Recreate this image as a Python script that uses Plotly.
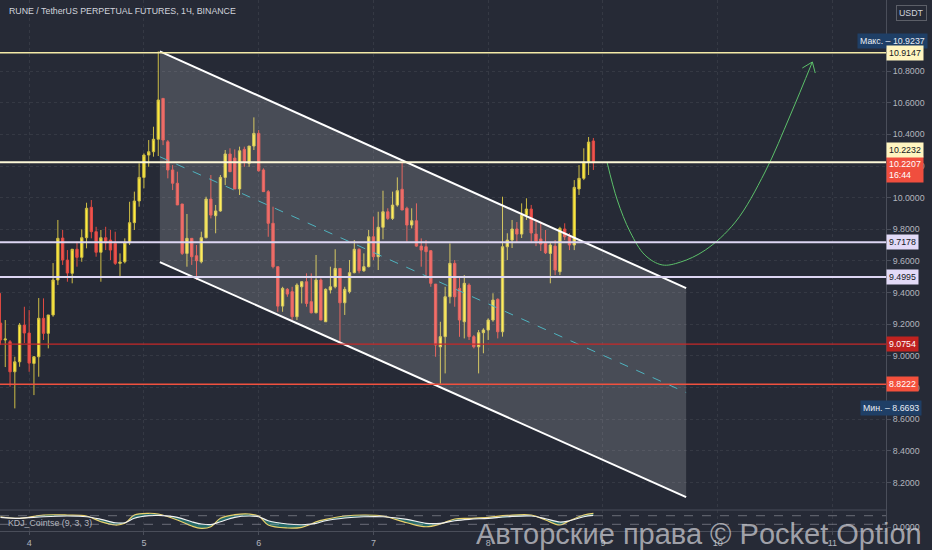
import pandas as pd
import plotly.graph_objects as go

# --- colours ---
BG = "#262a36"
TXT = "#b2b5be"
GRID = "rgba(255,255,255,0.07)"
FONT = "Liberation Sans, Arial, sans-serif"

# --- hourly candles (RUNE/USDT) ---
opens = [9.208, 9.101, 9.090, 8.900, 8.963, 9.195, 9.145, 8.953, 8.995, 9.238,
         9.143, 9.259, 9.480, 9.745, 9.606, 9.522, 9.674, 9.623, 9.747, 9.939,
         9.785, 9.655, 9.747, 9.732, 9.711, 9.585, 9.595, 9.715, 9.842, 9.979,
         10.128, 10.269, 10.290, 10.369, 10.627, 10.353, 10.175, 10.091, 9.960, 9.648,
         9.743, 9.633, 9.595, 9.747, 9.991, 9.886, 9.916, 10.128, 10.276, 10.250,
         10.055, 10.305, 10.217, 10.326, 10.406, 10.175, 10.038, 9.838, 9.564, 9.315,
         9.421, 9.406, 9.248, 9.437, 9.469, 9.343, 9.273, 9.480, 9.216, 9.417,
         9.437, 9.553, 9.336, 9.406, 9.526, 9.674, 9.538, 9.564, 9.753, 9.627,
         9.813, 9.911, 9.869, 9.953, 10.053, 9.933, 9.827, 9.854, 9.694, 9.690,
         9.665, 9.454, 9.058, 9.122, 9.374, 9.585, 9.427, 9.216, 9.448, 9.122,
         9.058, 9.147, 9.164, 9.227, 9.358, 9.153, 9.690, 9.732, 9.802, 9.770,
         9.890, 9.928, 9.770, 9.739, 9.713, 9.648, 9.694, 9.532, 9.802, 9.753,
         9.701, 10.055, 10.122, 10.225, 10.358]
highs = [9.397, 9.227, 9.101, 8.995, 9.208, 9.311, 9.290, 8.999, 9.366, 9.364,
         9.259, 9.587, 9.859, 9.796, 9.669, 9.676, 9.722, 9.800, 9.968, 9.985,
         9.816, 9.796, 9.816, 9.796, 9.785, 9.648, 9.743, 9.974, 10.038, 10.217,
         10.280, 10.364, 10.448, 10.924, 10.629, 10.364, 10.206, 10.164, 9.960, 9.897,
         9.745, 9.701, 9.785, 10.006, 10.143, 9.954, 10.143, 10.301, 10.312, 10.305,
         10.322, 10.322, 10.326, 10.507, 10.427, 10.185, 10.048, 9.943, 9.564, 9.437,
         9.429, 9.437, 9.459, 9.469, 9.522, 9.522, 9.638, 9.490, 9.427, 9.564,
         9.674, 9.553, 9.437, 9.606, 9.732, 9.680, 9.648, 9.796, 9.880, 9.911,
         10.044, 9.933, 10.038, 10.128, 10.225, 9.943, 9.933, 9.964, 9.743, 9.732,
         9.669, 9.454, 9.216, 9.437, 9.711, 9.606, 9.501, 9.511, 9.459, 9.132,
         9.164, 9.175, 9.238, 9.396, 9.364, 10.006, 9.775, 9.859, 9.846, 9.964,
         9.996, 9.954, 9.852, 9.848, 9.796, 9.713, 9.732, 9.816, 9.838, 9.777,
         10.111, 10.206, 10.312, 10.383, 10.377]
lows = [9.069, 8.930, 8.806, 8.669, 8.932, 9.082, 8.900, 8.753, 8.869, 9.101,
        9.048, 9.248, 9.448, 9.575, 9.469, 9.459, 9.564, 9.595, 9.680, 9.743,
        9.627, 9.469, 9.669, 9.606, 9.575, 9.500, 9.585, 9.701, 9.796, 9.943,
        10.059, 10.195, 10.259, 10.263, 10.332, 10.122, 10.048, 9.954, 9.638, 9.564,
        9.575, 9.480, 9.585, 9.743, 9.869, 9.775, 9.911, 10.080, 10.164, 10.055,
        10.017, 10.195, 10.195, 10.301, 10.164, 10.038, 9.753, 9.553, 9.279, 9.279,
        9.374, 9.227, 9.227, 9.332, 9.311, 9.269, 9.269, 9.227, 9.216, 9.395,
        9.427, 9.090, 9.259, 9.395, 9.522, 9.522, 9.532, 9.560, 9.606, 9.543,
        9.737, 9.859, 9.859, 9.943, 9.922, 9.722, 9.806, 9.690, 9.564, 9.490,
        9.437, 8.995, 8.825, 8.890, 9.332, 9.311, 9.121, 9.111, 9.101, 9.048,
        8.890, 9.017, 9.101, 9.216, 9.111, 9.122, 9.606, 9.682, 9.720, 9.745,
        9.859, 9.713, 9.694, 9.663, 9.644, 9.459, 9.511, 9.511, 9.732, 9.669,
        9.669, 10.017, 10.111, 10.143, 10.175]
closes = [9.101, 9.107, 8.900, 8.963, 9.195, 9.145, 8.955, 8.995, 9.238, 9.143,
          9.259, 9.480, 9.743, 9.606, 9.524, 9.674, 9.623, 9.747, 9.933, 9.785,
          9.655, 9.747, 9.715, 9.669, 9.585, 9.593, 9.715, 9.842, 9.979, 10.128,
          10.269, 10.290, 10.369, 10.617, 10.364, 10.175, 10.091, 9.954, 9.648, 9.743,
          9.627, 9.602, 9.747, 9.991, 9.890, 9.916, 10.128, 10.276, 10.164, 10.055,
          10.296, 10.227, 10.326, 10.406, 10.170, 10.038, 9.838, 9.564, 9.315, 9.427,
          9.391, 9.248, 9.448, 9.469, 9.332, 9.273, 9.480, 9.227, 9.421, 9.437,
          9.553, 9.336, 9.421, 9.526, 9.674, 9.538, 9.564, 9.753, 9.627, 9.813,
          9.911, 9.869, 9.953, 10.044, 9.922, 9.827, 9.854, 9.694, 9.669, 9.659,
          9.459, 9.069, 9.122, 9.374, 9.585, 9.374, 9.227, 9.459, 9.122, 9.058,
          9.147, 9.164, 9.227, 9.353, 9.153, 9.690, 9.732, 9.802, 9.770, 9.890,
          9.928, 9.777, 9.726, 9.707, 9.652, 9.701, 9.543, 9.806, 9.753, 9.701,
          10.065, 10.122, 10.225, 10.351, 10.221]

times = pd.date_range("2021-09-03 18:00", periods=len(closes), freq="h")

# --- axes ---
day_ticks = ["2021-09-%02d" % d for d in range(4, 12)]
day_labels = [str(d) for d in range(4, 12)]
price_ticks = [8.2, 8.4, 8.6, 8.8, 9.0, 9.2, 9.4, 9.6, 9.8, 10.0, 10.2, 10.4, 10.6, 10.8]
x_range = ["2021-09-03 17:54", "2021-09-11 11:12"]
y_range = [8.027, 11.2485]

# --- KDJ (9,3,3) ---
kdj_idx = [0, 4, 9, 14, 18, 21, 24, 26, 28, 31, 33, 37, 40, 42, 44, 46, 49, 52, 54, 56,
           60, 63, 65, 66, 68, 72, 76, 80, 85, 89, 92, 95, 98, 102, 106, 111, 114, 117,
           119, 122, 124]
kdj_k = [73, 62, 85, 85, 78, 38, 15, 27, 85, 97, 92, 50, 8, -8, 3, 62, 87, 92, 78, 15,
         -6, -1, 22, 38, 55, 78, 85, 78, 31, 3, 22, 57, 62, 69, 82, 85, 50, 15,
         45, 85, 97]
kdj_d = [69, 62, 73, 78, 73, 55, 31, 31, 62, 80, 82, 69, 38, 22, 18, 38, 69, 78, 73, 45,
         22, 17, 22, 27, 45, 64, 73, 73, 55, 27, 27, 45, 55, 62, 73, 78, 59, 36,
         45, 73, 82]
kdj_t = [times[i] for i in kdj_idx]

# --- drawn levels ---
levels = [10.9147, 10.2232, 9.7178, 9.4995, 9.0754, 8.8222]
level_colors = ["#f3eaa8", "#fdf8d8", "#ddd6f3", "#ddd6f3", "#c62828", "#f0513f"]
level_widths = [1.5, 2, 2, 2, 1.2, 1.5]
label_bg = ["#fff5c0", "#fff5c0", "#e2daf7", "#e2daf7", "#c0221f", "#f4503c"]
label_fg = ["#131722", "#131722", "#131722", "#131722", "#ffffff", "#ffffff"]
label_shift = [0, 12, 0, 0, 0, 0]

last_price = 10.2207
max_price = 10.9237
min_price = 8.6693

# --- descending channel ---
channel_t = ["2021-09-05 03:20", "2021-09-09 17:24"]
channel_top = [10.924, 9.429]
channel_bot = [9.593, 8.109]
channel_mid = [(a + b) / 2 for a, b in zip(channel_top, channel_bot)]

# --- projected path (green arrow) ---
curve_t = ["2021-09-09 00:54", "2021-09-09 03:00", "2021-09-09 05:42", "2021-09-09 08:48",
           "2021-09-09 12:24", "2021-09-09 16:12", "2021-09-09 21:24", "2021-09-10 03:42",
           "2021-09-10 09:54", "2021-09-10 15:12", "2021-09-10 19:48"]
curve_p = [10.219, 9.985, 9.783, 9.637, 9.575, 9.593, 9.669, 9.846, 10.162, 10.522, 10.857]
head_t = ["2021-09-10 17:42", "2021-09-10 19:48", "2021-09-10 20:24"]
head_p = [10.819, 10.857, 10.787]

fig = go.Figure()

# channel body
fig.add_trace(go.Scatter(
    x=[channel_t[0], channel_t[1], channel_t[1], channel_t[0], channel_t[0]],
    y=[channel_top[0], channel_top[1], channel_bot[1], channel_bot[0], channel_top[0]],
    fill="toself", fillcolor="rgba(255,255,255,0.16)", mode="none",
    hoverinfo="skip", showlegend=False))
fig.add_trace(go.Scatter(x=channel_t, y=channel_mid, mode="lines",
                         line=dict(color="#4fb3bf", width=1, dash="dash"),
                         hoverinfo="skip", showlegend=False))

fig.add_trace(go.Candlestick(
    x=times, open=opens, high=highs, low=lows, close=closes,
    increasing=dict(line=dict(color="#cdbd45", width=1), fillcolor="#ffeb3b"),
    decreasing=dict(line=dict(color="#e04a42", width=1), fillcolor="#ef5350"),
    whiskerwidth=0, showlegend=False))

for ys in (channel_top, channel_bot):
    fig.add_trace(go.Scatter(x=channel_t, y=ys, mode="lines",
                             line=dict(color="#ffffff", width=2),
                             hoverinfo="skip", showlegend=False))

fig.add_trace(go.Scatter(x=curve_t, y=curve_p, mode="lines",
                         line=dict(color="#5cc06a", width=1, shape="spline"),
                         hoverinfo="skip", showlegend=False))
fig.add_trace(go.Scatter(x=head_t, y=head_p, mode="lines",
                         line=dict(color="#5cc06a", width=1),
                         hoverinfo="skip", showlegend=False))

# KDJ pane
fig.add_trace(go.Scatter(x=kdj_t, y=kdj_d, yaxis="y2", mode="lines",
                         line=dict(width=0), hoverinfo="skip", showlegend=False))
fig.add_trace(go.Scatter(x=kdj_t, y=kdj_k, yaxis="y2", mode="lines", fill="tonexty",
                         fillcolor="rgba(38,150,140,0.6)",
                         line=dict(color="#e8cf6a", width=1.2, shape="spline"),
                         hoverinfo="skip", showlegend=False))
fig.add_trace(go.Scatter(x=kdj_t, y=kdj_d, yaxis="y2", mode="lines",
                         line=dict(color="#f2f2f2", width=1.2, shape="spline"),
                         hoverinfo="skip", showlegend=False))

shapes = []
for lv, col, w in zip(levels, level_colors, level_widths):
    shapes.append(dict(type="line", xref="paper", x0=0, x1=1, yref="y", y0=lv, y1=lv,
                       line=dict(color=col, width=w)))
for lv in (80, 20):
    shapes.append(dict(type="line", xref="paper", x0=0, x1=1, yref="y2", y0=lv, y1=lv,
                       line=dict(color="rgba(190,190,200,0.45)", width=1, dash="dash")))
shapes.append(dict(type="line", xref="paper", x0=0, x1=1, yref="paper", y0=0.0395, y1=0.0395,
                   line=dict(color="#4a4e5a", width=1)))

annotations = [
    dict(text="RUNE / TetherUS PERPETUAL FUTURES, 1Ч, BINANCE", xref="paper", yref="paper",
         x=0, y=1, xanchor="left", yanchor="middle", xshift=7, yshift=-11, showarrow=False,
         font=dict(family=FONT, size=8.8, color="#d1d4dc")),
    dict(text="USDT", xref="paper", yref="paper", x=1, y=1, xanchor="left", yanchor="top",
         xshift=10, yshift=-5, showarrow=False, bordercolor="rgba(255,255,255,0.25)",
         borderwidth=1, borderpad=2, font=dict(family=FONT, size=8.8, color="#d1d4dc")),
    dict(text="KDJ_Cointse (9, 3, 3)", xref="paper", yref="paper", x=0, y=0.015,
         xanchor="left", yanchor="middle", xshift=6, showarrow=False,
         font=dict(family=FONT, size=8.8, color=TXT)),
    dict(text="Макс. \u2013 %.4f" % max_price, xref="paper", yref="y", x=1, y=max_price,
         xanchor="right", yanchor="middle", xshift=42, yshift=10, showarrow=False,
         bgcolor="#1f3f66", borderpad=2, font=dict(family=FONT, size=8.8, color="#e8ecf5")),
    dict(text="Мин. \u2013 %.4f" % min_price, xref="paper", yref="y", x=1, y=min_price,
         xanchor="right", yanchor="middle", xshift=36, showarrow=False,
         bgcolor="#1f3f66", borderpad=2, font=dict(family=FONT, size=8.8, color="#e8ecf5")),
    dict(text="%.4f<br>16:44" % last_price, xref="paper", yref="y", x=1, y=last_price,
         xanchor="left", yanchor="top", yshift=7, showarrow=False, align="left",
         bgcolor="#f04e3e", borderpad=2, font=dict(family=FONT, size=8.8, color="#ffffff")),
    dict(text="Авторские права © Pocket Option", xref="paper", yref="paper",
         x=0.789, y=-0.006, xanchor="center", yanchor="middle", showarrow=False,
         font=dict(family=FONT, size=29, color="rgba(215,215,220,0.7)")),
]
for lv, bg, fg, sh in zip(levels, label_bg, label_fg, label_shift):
    annotations.append(dict(text="%.4f" % lv, xref="paper", yref="y", x=1, y=lv,
                            xanchor="left", yanchor="middle", yshift=sh, showarrow=False,
                            bgcolor=bg, borderpad=2,
                            font=dict(family=FONT, size=8.8, color=fg)))

fig.update_layout(
    width=932, height=550,
    margin=dict(l=0, r=46, t=0, b=19, autoexpand=False),
    paper_bgcolor=BG, plot_bgcolor=BG,
    font=dict(family=FONT, size=8.8, color=TXT),
    showlegend=False,
    xaxis=dict(range=x_range, tickvals=day_ticks, ticktext=day_labels, anchor="y2",
               showgrid=True, gridcolor=GRID, griddash="dot", zeroline=False,
               showline=True, linecolor="#4a4e5a", ticks="outside", ticklen=3,
               tickcolor="#4a4e5a", rangeslider=dict(visible=False),
               tickfont=dict(size=9, color=TXT)),
    yaxis=dict(domain=[0.0395, 1], range=y_range, side="right", tickvals=price_ticks,
               ticktext=["%.4f" % v for v in price_ticks], showgrid=True, gridcolor=GRID,
               griddash="dot", zeroline=False, showline=True, linecolor="#4a4e5a",
               ticks="outside", ticklen=4, tickcolor="#4a4e5a"),
    yaxis2=dict(domain=[0, 0.0395], range=[-26.8, 119.8], side="right", tickvals=[0],
                ticktext=["0.0000"], showgrid=False, zeroline=False, showline=True,
                linecolor="#4a4e5a", ticks="outside", ticklen=4, tickcolor="#4a4e5a"),
    shapes=shapes,
    annotations=annotations,
)

# the page's default body margin would shift the 932x550 figure
fig.write_html("out.html", config={"displayModeBar": False},
               post_script="document.body.style.margin='0';")
